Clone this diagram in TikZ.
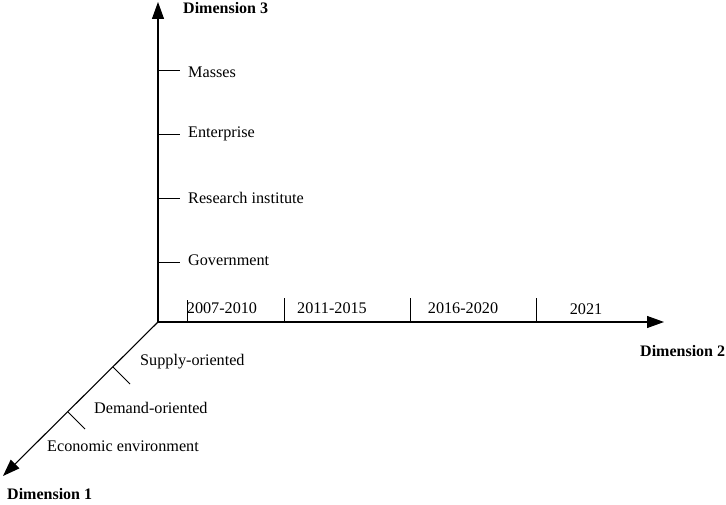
\documentclass[tikz,border=0pt]{standalone}
\usepackage{fontspec}
\setmainfont{Liberation Serif}
\usetikzlibrary{arrows.meta,calc}
\begin{document}
\begin{tikzpicture}[x=1pt,y=-1pt,
  axis/.style={line width=1.1pt,-{Triangle[length=17pt,width=12pt]}},
  tick/.style={line width=0.9pt},
  lbl/.style={font=\fontsize{16.2}{19}\selectfont,inner sep=0pt},
  dim/.style={font=\fontsize{16}{19}\selectfont\bfseries,inner sep=0pt}]
\useasboundingbox (0,0) rectangle (726,505);
% axes
\coordinate (O) at (158,322);
\coordinate (Z) at (158,2);
\coordinate (X) at (664,322);
\coordinate (Y) at (3,476);
\draw[axis] (O) -- (Z);
\draw[axis] (O) -- (X);
\draw[axis] (O) -- (Y);
% vertical ticks
\foreach \n/\yy in {m/70,e/134,r/198,g/262}{
  \coordinate (v\n) at (158,\yy);
  \coordinate (v\n e) at (180,\yy);
  \draw[tick] (v\n) -- (v\n e);
}
\node[lbl,anchor=west] (masses) at (188,72) {Masses};
\node[lbl,anchor=west] (ent) at (188,134) {Enterprise};
\node[lbl,anchor=west] (res) at (188,198) {Research institute};
\node[lbl,anchor=west] (gov) at (188,260) {Government};
% horizontal ticks
\foreach \n/\xx/\top in {a/187/300,b/284/298,c/410/298,d/536/298}{
  \coordinate (h\n) at (\xx,322);
  \coordinate (h\n t) at (\xx,\top);
  \draw[tick] (h\n) -- (h\n t);
}
\node[lbl] (p1) at (222,308) {2007-2010};
\node[lbl] (p2) at (332,308) {2011-2015};
\node[lbl] (p3) at (463,308) {2016-2020};
\node[lbl] (p4) at (586,309) {2021};
% diagonal ticks
\coordinate (d1) at (113,367);
\coordinate (d1e) at (130,384);
\coordinate (d2) at (68,412);
\coordinate (d2e) at (85,429);
\draw[tick] (d1) -- (d1e);
\draw[tick] (d2) -- (d2e);
\node[lbl,anchor=west] (sup) at (140,362) {Supply-oriented};
\node[lbl,anchor=west] (dem) at (94,408) {Demand-oriented};
\node[lbl,anchor=west] (eco) at (47,446) {Economic environment};
% dimension labels
\node[dim,anchor=west] (d3) at (183,8) {Dimension 3};
\node[dim,anchor=west] (d2l) at (640,351) {Dimension 2};
\node[dim,anchor=west] (d1l) at (7,494) {Dimension 1};
\end{tikzpicture}
\end{document}
